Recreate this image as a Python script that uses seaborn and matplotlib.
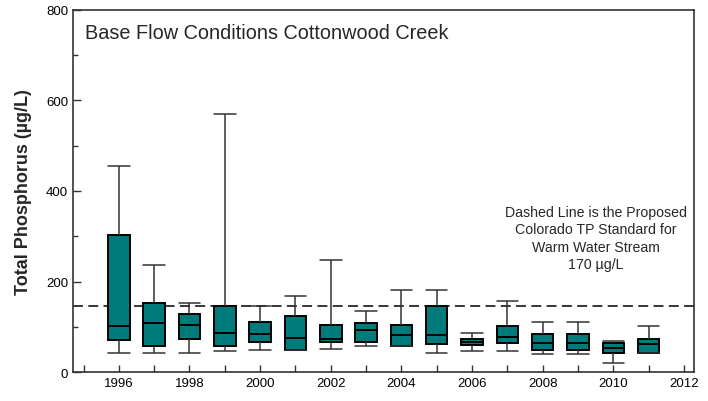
import pandas as pd
import numpy as np
import seaborn as sns
import matplotlib.pyplot as plt

# Box statistics (ug/L)
years = list(range(1996, 2012))
low = [43, 43, 43, 47, 48, 48, 51, 58, 57, 43, 47, 47, 40, 40, 21, 43]
q1 = [71, 58, 74, 58, 66, 48, 66, 66, 57, 63, 60, 65, 49, 49, 42, 43]
med = [101, 108, 105, 87, 85, 75, 74, 93, 81, 81, 67, 77, 64, 64, 53, 62]
q3 = [303, 153, 128, 145, 110, 123, 104, 108, 104, 146, 74, 102, 83, 83, 64, 72]
high = [455, 237, 152, 570, 146, 168, 248, 135, 181, 181, 87, 157, 111, 111, 69, 102]
standard = 145

# five points per year -> seaborn reproduces the same quartiles
rows = []
for i, yr in enumerate(years):
    for v in [low[i], q1[i], med[i], q3[i], high[i]]:
        rows.append({"year": yr, "tp": v})
df = pd.DataFrame(rows)

sns.set_style("ticks")
plt.rcParams['font.family'] = ['Liberation Sans', 'DejaVu Sans']

fig = plt.figure(figsize=(7.08, 4.02), dpi=100)
ax = fig.add_axes([0.103, 0.072, 0.877, 0.901])

ax.axhline(standard, color="black", linestyle=(0, (6.5, 3.5)), linewidth=1.1, zorder=0.5)

sns.boxplot(data=df, x="year", y="tp", native_scale=True, width=0.61,
            whis=(0, 100), showfliers=False, color="#007b7b", saturation=1,
            linecolor="black", linewidth=1.4, capwidths=0.61,
            whiskerprops={"color": "#333333", "linewidth": 1.1},
            capprops={"color": "#333333", "linewidth": 1.1},
            ax=ax)

ax.set_xlim(1994.7, 2012.28)
ax.set_ylim(0, 800)
ax.set_xticks(range(1996, 2013, 2))
ax.set_xticks(range(1995, 2013), minor=True)
ax.set_yticks(range(0, 801, 200))
ax.set_yticks([100, 300, 500, 700], minor=True)
ax.tick_params(which="both", direction="in", width=1, color="#333333",
               labelsize=9.5, labelcolor="black")
ax.tick_params(axis="y", which="major", length=6)
ax.tick_params(axis="y", which="minor", length=3.5)
ax.tick_params(axis="x", which="both", length=5)
ax.set_xlabel("")
ax.set_ylabel("Total Phosphorus (µg/L)", fontsize=13, fontweight="bold", labelpad=10)
for s in ax.spines.values():
    s.set_visible(True)
    s.set_color("#333333")
    s.set_linewidth(1.2)

ax.text(0.019, 0.965, "Base Flow Conditions Cottonwood Creek", transform=ax.transAxes,
        fontsize=14.3, va="top", ha="left")
ax.text(2009.5, 296, "Dashed Line is the Proposed\nColorado TP Standard for\nWarm Water Stream\n170 µg/L",
        fontsize=10.2, ha="center", va="center", linespacing=1.3)

fig.savefig("out.png", dpi=100)
